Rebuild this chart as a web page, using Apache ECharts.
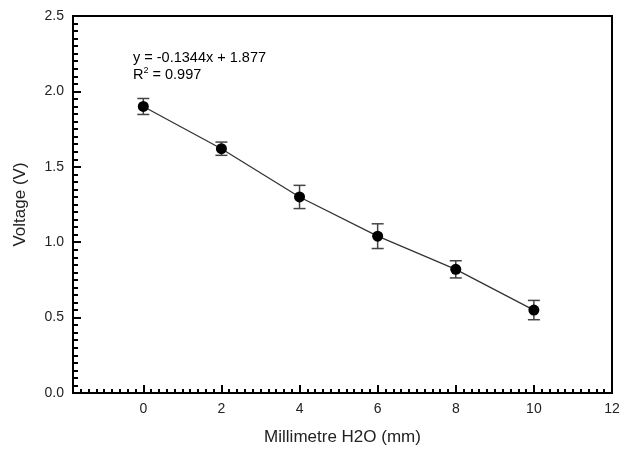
<!DOCTYPE html>
<html>
<head>
<meta charset="utf-8">
<script src="https://cdn.jsdelivr.net/npm/echarts@6/dist/echarts.min.js"></script>
<style>
  html, body { margin: 0; padding: 0; background: #fff; }
  #chart { width: 625px; height: 454px; }
</style>
</head>
<body>
<div id="chart"></div>
<script>
// Water depth (mm) against measured voltage, with error bars
const depthMm = [0, 2, 4, 6, 8, 10];
const voltage = [1.90, 1.62, 1.30, 1.04, 0.82, 0.55];
const voltageErr = [0.053, 0.044, 0.077, 0.082, 0.057, 0.064];
const xTickLabels = [0, 2, 4, 6, 8, 10, 12];
const fitText = 'y = -0.1344x + 1.877';
const r2Text = '0.997';

const FONT = '"Liberation Sans", Arial, sans-serif';

const points = depthMm.map((x, i) => [x, voltage[i]]);
const errData = depthMm.map((x, i) => [x, voltage[i] - voltageErr[i], voltage[i] + voltageErr[i]]);

const chart = echarts.init(document.getElementById('chart'));

chart.setOption({
  animation: false,
  backgroundColor: '#fff',
  grid: {
    left: 73, right: 13, top: 16, bottom: 61,
    show: true, borderColor: '#000', borderWidth: 2, backgroundColor: 'transparent'
  },
  xAxis: [
    {
      type: 'value', min: -1.8, max: 12, interval: 0.2,
      name: 'Millimetre H2O (mm)', nameLocation: 'middle', nameGap: 36,
      nameTextStyle: { fontFamily: FONT, fontSize: 17, color: '#222' },
      axisLine: { show: true, onZero: false, lineStyle: { color: '#000', width: 2 } },
      axisTick: { show: true, inside: true, length: 4, lineStyle: { color: '#000', width: 2 } },
      axisLabel: {
        customValues: xTickLabels, margin: 9,
        fontFamily: FONT, fontSize: 14, color: '#222'
      },
      splitLine: { show: false }
    },
    {
      type: 'value', min: -1.8, max: 12, position: 'bottom',
      axisLine: { show: false },
      axisTick: { show: true, inside: true, length: 8, customValues: xTickLabels,
                  lineStyle: { color: '#000', width: 2 } },
      axisLabel: { show: false },
      splitLine: { show: false }
    }
  ],
  yAxis: {
    type: 'value', min: 0, max: 2.5, interval: 0.5,
    name: 'Voltage (V)', nameLocation: 'middle', nameGap: 44, nameRotate: 90,
    nameTextStyle: { fontFamily: FONT, fontSize: 17, color: '#222' },
    axisLine: { show: true, onZero: false, lineStyle: { color: '#000', width: 2 } },
    axisTick: { show: true, inside: true, length: 8, lineStyle: { color: '#000', width: 2 } },
    minorTick: { show: true, splitNumber: 10, length: 5, lineStyle: { color: '#000', width: 2 } },
    axisLabel: {
      margin: 9, fontFamily: FONT, fontSize: 14, color: '#222',
      formatter: v => v.toFixed(1)
    },
    splitLine: { show: false },
    minorSplitLine: { show: false }
  },
  series: [
    {
      type: 'custom',
      xAxisIndex: 0,
      data: errData,
      z: 2,
      renderItem: function (params, api) {
        const x = api.value(0);
        const lo = api.coord([x, api.value(1)]);
        const hi = api.coord([x, api.value(2)]);
        const cap = 6;
        const style = { stroke: '#444', lineWidth: 1.5, fill: null };
        return {
          type: 'group',
          children: [
            { type: 'line', shape: { x1: lo[0], y1: lo[1], x2: hi[0], y2: hi[1] }, style },
            { type: 'line', shape: { x1: hi[0] - cap, y1: hi[1], x2: hi[0] + cap, y2: hi[1] }, style },
            { type: 'line', shape: { x1: lo[0] - cap, y1: lo[1], x2: lo[0] + cap, y2: lo[1] }, style }
          ]
        };
      }
    },
    {
      type: 'line',
      xAxisIndex: 0,
      data: points,
      z: 3,
      symbol: 'circle',
      symbolSize: 11,
      itemStyle: { color: '#000' },
      lineStyle: { color: '#333', width: 1.3 }
    }
  ],
  graphic: [
    {
      type: 'text', left: 133, top: 50,
      style: {
        text: '{a|' + fitText + '}\n{a|R}{s|2}{a| = ' + r2Text + '}',
        rich: {
          a: { fontFamily: FONT, fontSize: 14.5, color: '#111', lineHeight: 17 },
          s: { fontFamily: FONT, fontSize: 9, color: '#111', lineHeight: 17, verticalAlign: 'top', padding: [0, 0, 8, 0] }
        }
      }
    }
  ]
});
</script>
</body>
</html>
